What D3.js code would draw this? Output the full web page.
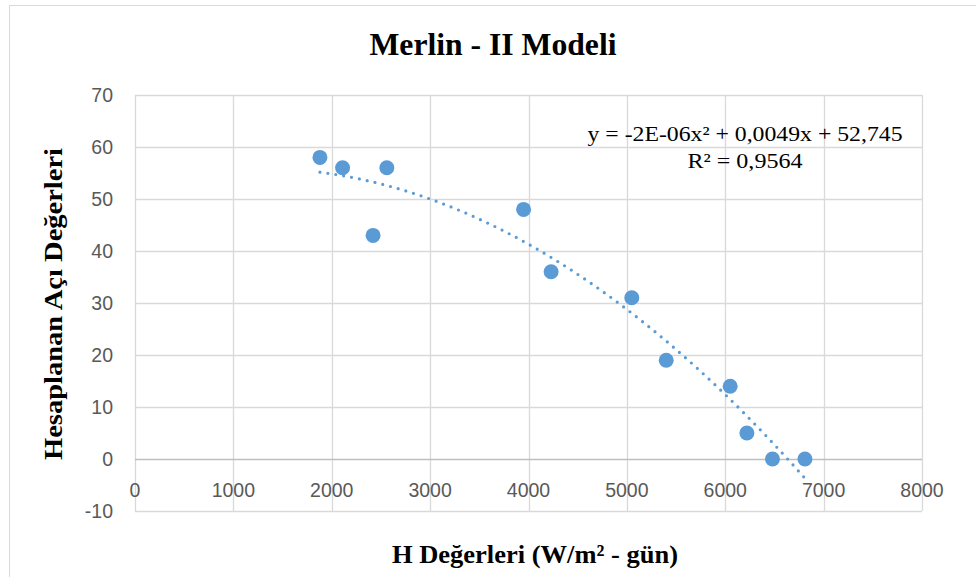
<!DOCTYPE html>
<html>
<head>
<meta charset="utf-8">
<script src="https://cdn.jsdelivr.net/npm/d3@7"></script>
<style>
  body { margin: 0; background: #fff; }
  svg { display: block; }
</style>
</head>
<body>
<script>
// data
var hValues = [1880, 2110, 2420, 2560, 3950, 4230, 5050, 5400, 6050, 6220, 6480, 6810];
var angleValues = [58, 56, 43, 56, 48, 36, 31, 19, 14, 5, 0, 0];
var xTicks = [0, 1000, 2000, 3000, 4000, 5000, 6000, 7000, 8000];
var yTicks = [-10, 0, 10, 20, 30, 40, 50, 60, 70];
var titleText = 'Merlin - II Modeli';
var yTitle = 'Hesaplanan Açı Değerleri';
var xTitle = 'H Değerleri (W/m² - gün)';
var eqText = ['y = -2E-06x² + 0,0049x + 52,745', 'R² = 0,9564'];

var width = 976, height = 577;
var margin = {left: 135, right: 54, top: 95, bottom: 66};

// least squares quadratic fit of the points (what the excel trendline does)
function polyFit2(xs, ys) {
  var s = [0, 0, 0, 0, 0], t = [0, 0, 0];
  xs.forEach((xv, i) => {
    var u = xv / 1000
    for (let k = 0; k < 5; k++) s[k] += Math.pow(u, k)
    for (let k = 0; k < 3; k++) t[k] += ys[i] * Math.pow(u, k)
  })
  var m = [[s[0], s[1], s[2], t[0]], [s[1], s[2], s[3], t[1]], [s[2], s[3], s[4], t[2]]]
  for (let c = 0; c < 3; c++) {
    for (let r = c + 1; r < 3; r++) {
      var f = m[r][c] / m[c][c]
      for (let k = c; k < 4; k++) m[r][k] -= f * m[c][k]
    }
  }
  var b = [0, 0, 0]
  for (let r = 2; r >= 0; r--) {
    var v = m[r][3]
    for (let k = r + 1; k < 3; k++) v -= m[r][k] * b[k]
    b[r] = v / m[r][r]
  }
  return xv => b[0] + b[1] * (xv / 1000) + b[2] * (xv / 1000) * (xv / 1000)
}
var trend = polyFit2(hValues, angleValues)

var svg = d3.select('body').append('svg').attr('width', width).attr('height', height)

// outer chart border
svg.append('rect')
  .attr('x', 9.5).attr('y', 5.5)
  .attr('width', width + 10).attr('height', height + 10)
  .attr('fill', 'none').attr('stroke', '#d9d9d9')

var x = d3.scaleLinear().domain([0, 8000]).range([margin.left, width - margin.right])
var y = d3.scaleLinear().domain([-10, 70]).range([height - margin.bottom, margin.top])

// grid lines
svg.append('g')
  .selectAll('line.vg')
  .data(xTicks)
  .enter().append('line')
    .attr('class', 'vg')
    .attr('x1', d => Math.round(x(d)) + 0.5).attr('x2', d => Math.round(x(d)) + 0.5)
    .attr('y1', y(70)).attr('y2', y(-10))
    .attr('stroke', '#d9d9d9').attr('stroke-width', 1.3)

svg.append('g')
  .selectAll('line.hg')
  .data(yTicks)
  .enter().append('line')
    .attr('class', 'hg')
    .attr('x1', x(0)).attr('x2', x(8000))
    .attr('y1', d => Math.round(y(d)) + 0.5).attr('y2', d => Math.round(y(d)) + 0.5)
    .attr('stroke', d => d === 0 ? '#bfbfbf' : '#d9d9d9').attr('stroke-width', d => d === 0 ? 1.6 : 1.3)

// tick labels
svg.append('g')
  .selectAll('text.yl')
  .data(yTicks)
  .enter().append('text')
    .attr('class', 'yl')
    .attr('x', 113).attr('y', d => y(d) + 7)
    .attr('text-anchor', 'end')
    .attr('font-family', 'Liberation Sans, Arial, sans-serif').attr('font-size', 19.5)
    .attr('fill', '#595959')
    .text(d => d)

svg.append('g')
  .selectAll('text.xl')
  .data(xTicks)
  .enter().append('text')
    .attr('class', 'xl')
    .attr('x', d => x(d)).attr('y', y(0) + 38)
    .attr('text-anchor', 'middle')
    .attr('font-family', 'Liberation Sans, Arial, sans-serif').attr('font-size', 19.5)
    .attr('fill', '#595959')
    .text(d => d)

// trendline
var trendX = d3.range(hValues[0], hValues[hValues.length - 1] + 1, 20)
var line = d3.line()
  .x(d => x(d))
  .y(d => y(trend(d)))

svg.append('path')
  .attr('d', line(trendX))
  .attr('fill', 'none')
  .attr('stroke', '#5b9bd5')
  .attr('stroke-width', 3.2)
  .attr('stroke-linecap', 'round')
  .attr('stroke-dasharray', '0 8')

// points
svg.selectAll('circle.pt')
  .data(hValues)
  .enter().append('circle')
    .attr('class', 'pt')
    .attr('cx', d => x(d))
    .attr('cy', (d, i) => y(angleValues[i]))
    .attr('r', 7.5)
    .attr('fill', '#5b9bd5')

// title and axis titles
svg.append('text')
  .attr('x', 493).attr('y', 55)
  .attr('text-anchor', 'middle')
  .attr('font-family', 'Liberation Serif, Times New Roman, serif')
  .attr('font-weight', 'bold').attr('font-size', 32)
  .attr('textLength', 247).attr('lengthAdjust', 'spacingAndGlyphs')
  .text(titleText)

svg.append('text')
  .attr('transform', 'translate(62, 304) rotate(-90)')
  .attr('text-anchor', 'middle')
  .attr('font-family', 'Liberation Serif, Times New Roman, serif')
  .attr('font-weight', 'bold').attr('font-size', 26)
  .attr('textLength', 312).attr('lengthAdjust', 'spacingAndGlyphs')
  .text(yTitle)

svg.append('text')
  .attr('x', 535).attr('y', 563)
  .attr('text-anchor', 'middle')
  .attr('font-family', 'Liberation Serif, Times New Roman, serif')
  .attr('font-weight', 'bold').attr('font-size', 26)
  .attr('textLength', 286).attr('lengthAdjust', 'spacingAndGlyphs')
  .text(xTitle)

// equation label
svg.append('text')
  .attr('x', 745).attr('y', 141)
  .attr('text-anchor', 'middle')
  .attr('font-family', 'Liberation Serif, Times New Roman, serif')
  .attr('font-size', 21)
  .attr('textLength', 315).attr('lengthAdjust', 'spacingAndGlyphs')
  .text(eqText[0])

svg.append('text')
  .attr('x', 745).attr('y', 168)
  .attr('text-anchor', 'middle')
  .attr('font-family', 'Liberation Serif, Times New Roman, serif')
  .attr('font-size', 21)
  .attr('textLength', 115).attr('lengthAdjust', 'spacingAndGlyphs')
  .text(eqText[1])
</script>
</body>
</html>
